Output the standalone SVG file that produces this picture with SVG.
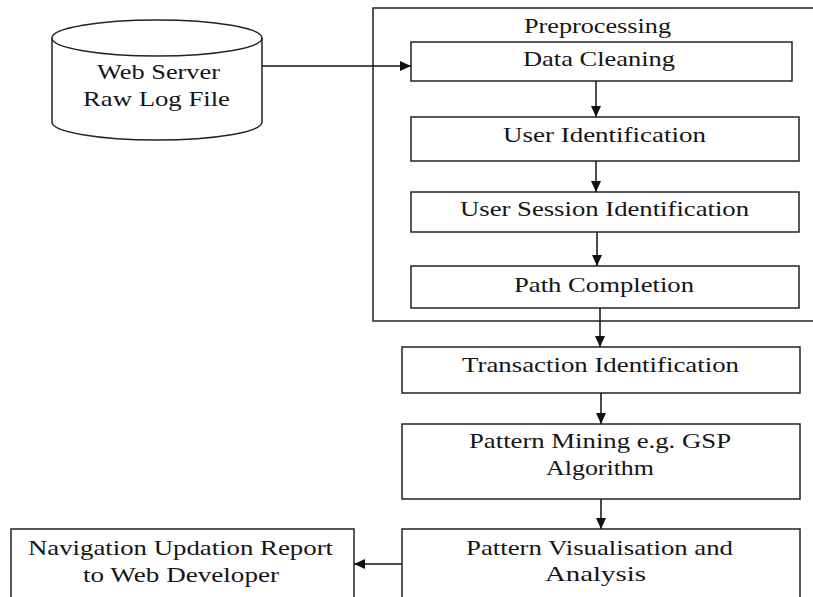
<svg xmlns="http://www.w3.org/2000/svg" width="813" height="597" viewBox="0 0 813 597">
  <defs>
    <marker id="ah" markerUnits="userSpaceOnUse" markerWidth="12" markerHeight="10" refX="11" refY="5" orient="auto">
      <path d="M0,0 L11,5 L0,10 z" fill="#111"/>
    </marker>
    <style>
      .box { fill: #fff; stroke: #222; stroke-width: 1.5; }
      .frame { fill: none; stroke: #222; stroke-width: 1.5; }
      .t { font-family: "Liberation Serif", "Times New Roman", serif; font-size: 22px; fill: #151515; }
      .c { stroke: #111; stroke-width: 1.5; fill: none; marker-end: url(#ah); }
    </style>
  </defs>
  <rect width="813" height="597" fill="#fff"/>

  <g id="preprocessing">
    <rect class="frame" x="373" y="8" width="450" height="313"/>
    <text class="t" x="524" y="33" textLength="147" lengthAdjust="spacingAndGlyphs">Preprocessing</text>
  </g>

  <g id="connectors">
    <line class="c" x1="262" y1="66" x2="411" y2="66"/>
    <line class="c" x1="596" y1="81" x2="596" y2="117"/>
    <line class="c" x1="596" y1="161" x2="596" y2="192"/>
    <line class="c" x1="597" y1="232" x2="597" y2="266"/>
    <line class="c" x1="600" y1="308" x2="600" y2="347"/>
    <line class="c" x1="601" y1="393" x2="601" y2="424"/>
    <line class="c" x1="601" y1="499" x2="601" y2="529"/>
    <line class="c" x1="402" y1="564" x2="354" y2="564"/>
  </g>

  <g id="raw-log">
    <path class="box" d="M52,38 L52,122 A105,18 0 0 0 262,122 L262,38"/>
    <ellipse class="box" cx="157" cy="38" rx="105" ry="18"/>
    <text class="t" x="97" y="79" textLength="123" lengthAdjust="spacingAndGlyphs">Web Server</text>
    <text class="t" x="83" y="106" textLength="147" lengthAdjust="spacingAndGlyphs">Raw Log File</text>
  </g>

  <g id="data-cleaning">
    <rect class="box" x="411" y="42" width="381" height="39"/>
    <text class="t" x="523" y="66" textLength="152" lengthAdjust="spacingAndGlyphs">Data Cleaning</text>
  </g>

  <g id="user-identification">
    <rect class="box" x="411" y="117" width="388" height="44"/>
    <text class="t" x="503" y="142" textLength="203" lengthAdjust="spacingAndGlyphs">User Identification</text>
  </g>

  <g id="user-session-identification">
    <rect class="box" x="411" y="192" width="388" height="40"/>
    <text class="t" x="460" y="216" textLength="289" lengthAdjust="spacingAndGlyphs">User Session Identification</text>
  </g>

  <g id="path-completion">
    <rect class="box" x="411" y="266" width="388" height="42"/>
    <text class="t" x="514" y="292" textLength="180" lengthAdjust="spacingAndGlyphs">Path Completion</text>
  </g>

  <g id="transaction-identification">
    <rect class="box" x="402" y="347" width="398" height="46"/>
    <text class="t" x="462" y="372" textLength="277" lengthAdjust="spacingAndGlyphs">Transaction Identification</text>
  </g>

  <g id="pattern-mining">
    <rect class="box" x="402" y="424" width="398" height="75"/>
    <text class="t" x="469" y="448" textLength="262" lengthAdjust="spacingAndGlyphs">Pattern Mining e.g. GSP</text>
    <text class="t" x="546" y="475" textLength="108" lengthAdjust="spacingAndGlyphs">Algorithm</text>
  </g>

  <g id="pattern-visualisation">
    <rect class="box" x="402" y="529" width="398" height="80"/>
    <text class="t" x="466" y="555" textLength="267" lengthAdjust="spacingAndGlyphs">Pattern Visualisation and</text>
    <text class="t" x="545" y="581" textLength="101" lengthAdjust="spacingAndGlyphs">Analysis</text>
  </g>

  <g id="navigation-report">
    <rect class="box" x="11" y="529" width="343" height="80"/>
    <text class="t" x="28" y="555" textLength="305" lengthAdjust="spacingAndGlyphs">Navigation Updation Report</text>
    <text class="t" x="83" y="582" textLength="196" lengthAdjust="spacingAndGlyphs">to Web Developer</text>
  </g>
</svg>
